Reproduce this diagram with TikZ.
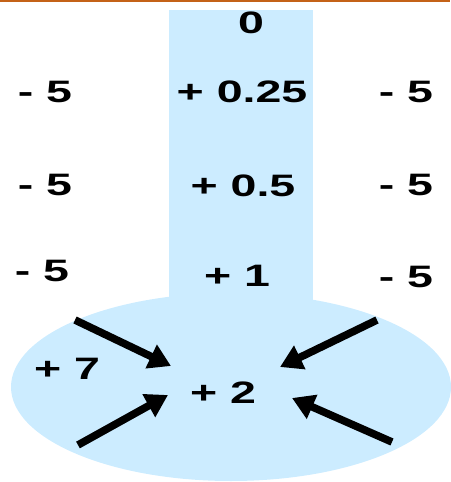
\documentclass[tikz,border=0pt]{standalone}
\usepackage{fontspec}
\setmainfont[FakeStretch=1.5]{Liberation Sans}
\usetikzlibrary{arrows.meta}
\definecolor{tubeblue}{RGB}{204,236,255}
\definecolor{topline}{RGB}{196,98,24}

\begin{document}
\begin{tikzpicture}[x=0.5pt, y=-0.5pt,
        val/.style={font=\fontsize{15.5}{18}\selectfont\bfseries, inner sep=0pt},
        push/.style={line width=3.8pt, -{Triangle[length=11pt,width=12.5pt]}}]
    \useasboundingbox (0,0) rectangle (450,482);
    \fill[tubeblue] (231,387) ellipse [x radius=220, y radius=94];
    \fill[tubeblue] (169,10) rectangle (313,330);
    \draw[topline, line width=1.2pt] (0,1) -- (450,1);
    % values in the column
    \node[val] (top) at (251,23) {0};
    \node[val] (c1) at (242,92) {+ 0.25};
    \node[val] (c2) at (243,186) {+ 0.5};
    \node[val] (c3) at (237,276) {+ 1};
    % values left and right
    \node[val] (l1) at (45,92) {- 5};
    \node[val] (l2) at (45,185) {- 5};
    \node[val] (l3) at (42,271) {- 5};
    \node[val] (r1) at (406,92) {- 5};
    \node[val] (r2) at (406,185) {- 5};
    \node[val] (r3) at (406,277) {- 5};
    % bulb
    \node[val] (side) at (67,369) {+ 7};
    \node[val] (core) at (223,393) {+ 2};
    \coordinate (a1) at (75,320);
    \coordinate (t1) at (171,366);
    \coordinate (a2) at (377,320);
    \coordinate (t2) at (280,367);
    \coordinate (a3) at (78,445);
    \coordinate (t3) at (168,395);
    \coordinate (a4) at (392,442);
    \coordinate (t4) at (292,398);
    \draw[push] (a1) -- (t1);
    \draw[push] (a2) -- (t2);
    \draw[push] (a3) -- (t3);
    \draw[push] (a4) -- (t4);
\end{tikzpicture}
\end{document}
